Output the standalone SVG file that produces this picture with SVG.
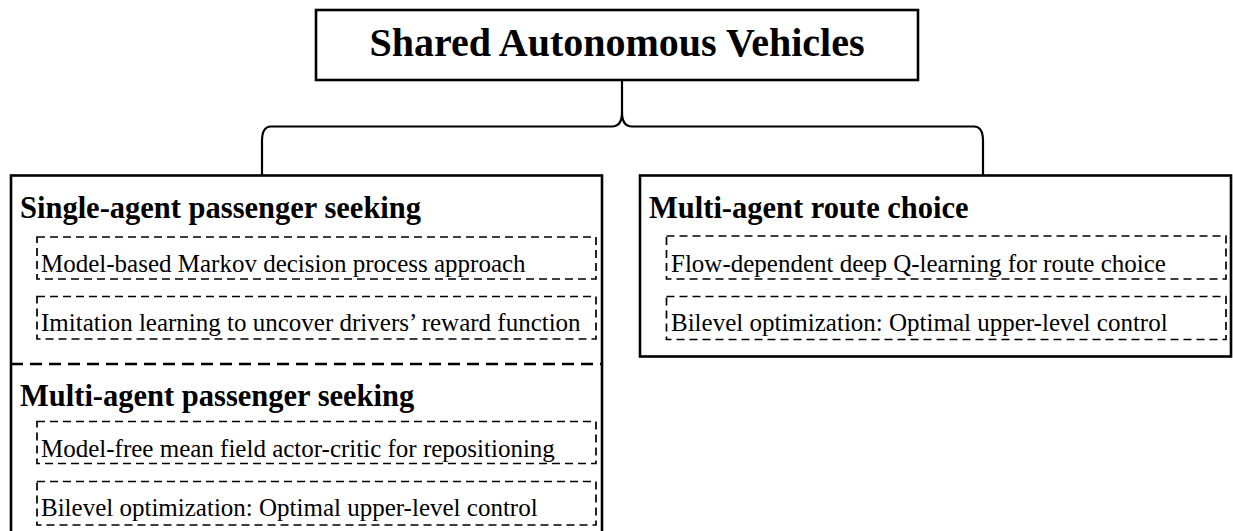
<svg xmlns="http://www.w3.org/2000/svg" width="1233" height="531" viewBox="0 0 1233 531">
  <style>
    .frame { fill: #fff; stroke: #000; stroke-width: 2.6; }
    .item { fill: none; stroke: #000; stroke-width: 1.7; stroke-dasharray: 8 5; }
    .split { fill: none; stroke: #000; stroke-width: 2.6; stroke-dasharray: 12 7; }
    .brace { fill: none; stroke: #000; stroke-width: 2.2; }
    .root { font-family: "Liberation Serif", "Times New Roman", serif; font-weight: bold; font-size: 40px; fill: #000; }
    .head { font-family: "Liberation Serif", "Times New Roman", serif; font-weight: bold; font-size: 30.5px; fill: #000; }
    .leaf { font-family: "Liberation Serif", "Times New Roman", serif; font-size: 25px; fill: #000; }
  </style>
  <rect width="1233" height="531" fill="#fff"/>

  <!-- curly brace connecting the root to both branches -->
  <g id="connectors">
    <path class="brace" d="M622 80 L622 112 Q622 126.5 612 126.5 L271 126.5 Q262 126.5 262 141 L262 176"/>
    <path class="brace" d="M622 112 Q622 126.5 632 126.5 L974 126.5 Q983 126.5 983 141 L983 176"/>
  </g>

  <g id="root">
    <rect class="frame" x="316" y="10" width="602" height="70"/>
    <text class="root" x="617" y="56" text-anchor="middle">Shared Autonomous Vehicles</text>
  </g>

  <g id="passenger-seeking">
    <rect class="frame" x="11" y="175.5" width="591" height="380"/>
    <text class="head" x="20" y="218">Single-agent passenger seeking</text>
    <g id="mdp">
      <rect class="item" x="37" y="237" width="559" height="42"/>
      <text class="leaf" x="41" y="271.5">Model-based Markov decision process approach</text>
    </g>
    <g id="imitation">
      <rect class="item" x="37" y="296.5" width="559" height="42.5"/>
      <text class="leaf" x="41" y="330.5">Imitation learning to uncover drivers’ reward function</text>
    </g>
    <line class="split" x1="11" y1="364" x2="602" y2="364"/>
    <text class="head" x="20" y="406">Multi-agent passenger seeking</text>
    <g id="mean-field">
      <rect class="item" x="37" y="421.5" width="559" height="42"/>
      <text class="leaf" x="41" y="456.5">Model-free mean field actor-critic for repositioning</text>
    </g>
    <g id="bilevel-left">
      <rect class="item" x="37" y="481.5" width="559" height="43.5"/>
      <text class="leaf" x="41" y="515.5">Bilevel optimization: Optimal upper-level control</text>
    </g>
  </g>

  <g id="route-choice">
    <rect class="frame" x="640" y="175.5" width="591" height="181"/>
    <text class="head" x="649" y="218">Multi-agent route choice</text>
    <g id="deep-q">
      <rect class="item" x="666.5" y="236" width="559.5" height="43"/>
      <text class="leaf" x="671" y="271.5">Flow-dependent deep Q-learning for route choice</text>
    </g>
    <g id="bilevel-right">
      <rect class="item" x="666.5" y="296.5" width="559.5" height="43"/>
      <text class="leaf" x="671" y="330.5">Bilevel optimization: Optimal upper-level control</text>
    </g>
  </g>
</svg>
